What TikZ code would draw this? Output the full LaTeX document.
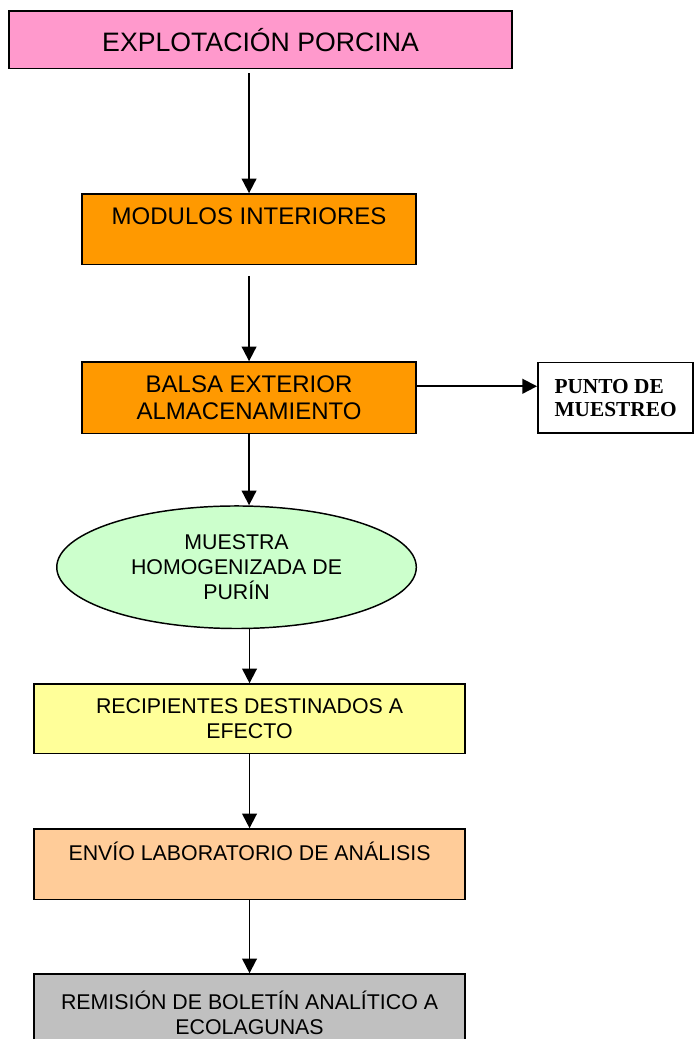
\documentclass[tikz,border=0pt]{standalone}
\usepackage{fontspec}
\setmainfont{Liberation Sans}
\newfontfamily\puntofont{Liberation Serif}
\usetikzlibrary{positioning, arrows.meta, shapes.geometric}

\definecolor{rosa}{HTML}{FF99CC}
\definecolor{naranja}{HTML}{FF9900}
\definecolor{verde}{HTML}{CCFFCC}
\definecolor{amarillo}{HTML}{FFFF99}
\definecolor{salmon}{HTML}{FFCC99}
\definecolor{gris}{HTML}{C0C0C0}

\begin{document}
\begin{tikzpicture}[
    font=\fontsize{16}{18.75}\selectfont,
    caja/.style={
        rectangle,
        draw=black,
        line width=1.2pt,
        inner sep=0pt,
        minimum width=323.55pt,
        minimum height=52.8pt,
        align=center
    },
    modulo/.style={
        caja,
        fill=naranja,
        minimum width=250.8pt,
        font=\fontsize{18}{20.25}\selectfont
    },
    muestra/.style={
        ellipse,
        draw=black,
        line width=1.1pt,
        fill=verde,
        inner sep=0pt,
        minimum width=269.65pt,
        minimum height=91.9pt,
        align=center
    },
    flecha/.style={-{Triangle[length=11pt, width=11pt]}, line width=1.4pt, draw=black}
]

\useasboundingbox (0,0) rectangle (521.25pt,-779.25pt);

% --- Etapas del muestreo ---
\node[caja, fill=rosa, minimum width=377.55pt, minimum height=43.05pt,
      font=\fontsize{20}{24}\selectfont] (explotacion) at (195.4pt,-29.8pt) {EXPLOTACIÓN PORCINA};
\node[modulo, below=93pt of explotacion, xshift=-8.6pt] (modulos) {MODULOS INTERIORES\\\mbox{}};
\node[modulo, below=72pt of modulos, minimum height=53.55pt] (balsa) {BALSA EXTERIOR\\ALMACENAMIENTO};
\node[muestra, below=53.25pt of balsa, xshift=-9.4pt] (homogenizada) {MUESTRA\\HOMOGENIZADA DE\\PURÍN};
\node[caja, fill=amarillo, below=40.5pt of homogenizada, xshift=9.75pt, minimum height=52.05pt] (recipientes)
    {RECIPIENTES DESTINADOS A\\EFECTO};
\node[caja, fill=salmon, below=55.5pt of recipientes] (envio) {ENVÍO LABORATORIO DE ANÁLISIS\\\mbox{}};
\node[caja, fill=gris, below=54.75pt of envio, minimum height=57.5pt] (remision)
    {REMISIÓN DE BOLETÍN ANALÍTICO A\\ECOLAGUNAS};

% --- Punto de muestreo ---
\node[caja, right=90pt of balsa, minimum width=116.55pt, align=left,
      font=\puntofont\bfseries\fontsize{16}{17.25}\selectfont] (punto) {PUNTO DE\\MUESTREO};

% --- Flechas ---
\draw[flecha, shorten <=3pt] (explotacion.south -| modulos.north) -- (modulos.north);
\draw[flecha, shorten <=8pt] (modulos.south) -- (balsa.north);
\draw[flecha] (balsa.south) -- (balsa.south |- homogenizada.north);
\draw[flecha] (homogenizada.south -| recipientes.north) -- (recipientes.north);
\draw[flecha] (recipientes.south) -- (envio.north);
\draw[flecha] (envio.south) -- (remision.north);
\draw[flecha] ([yshift=8.6pt]balsa.east) -- ([yshift=8.6pt]punto.west);

\end{tikzpicture}
\end{document}
